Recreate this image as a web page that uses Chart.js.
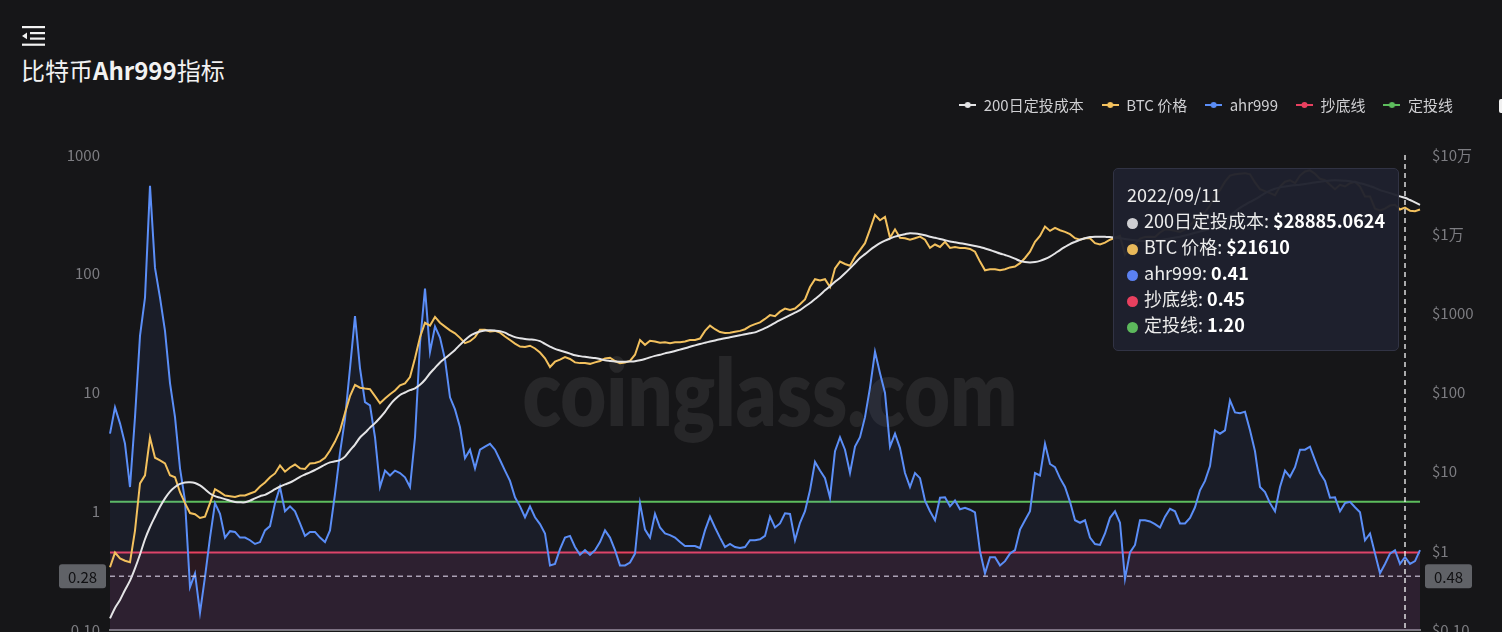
<!DOCTYPE html>
<html>
<head>
<meta charset="utf-8">
<script src="https://cdn.jsdelivr.net/npm/chart.js@4.4.0/dist/chart.umd.min.js"></script>
<style>
  body { margin:0; background:#161618; width:1502px; height:632px; overflow:hidden; position:relative;
         font-family:"Noto Sans CJK SC","Noto Sans",sans-serif; }
  #menu { position:absolute; left:22px; top:26px; }
  #title { position:absolute; left:21px; top:54px; color:#f2f2f2; font-size:24px; line-height:32px; white-space:nowrap; }
  #title b { font-weight:700; }
  #corner { position:absolute; left:1499px; top:99px; width:8px; height:14px; background:#f0f0f0; border-radius:2px; }
  #wrap { position:absolute; left:0; top:0; width:1502px; height:680px; }
  #tip { position:absolute; display:none; background:rgba(31,33,46,0.96); border:1px solid #313344; border-radius:5px;
         padding:12px 13px 13px 13px; color:#ececec; font-size:18px; line-height:26px; white-space:nowrap; z-index:5; }
  #tip .dot { display:inline-block; width:11px; height:11px; border-radius:50%; margin-right:6px; vertical-align:-1px; }
  #tip b { font-weight:700; color:#fff; }
</style>
</head>
<body>
<svg id="menu" width="23" height="20" viewBox="0 0 23 20">
  <rect x="0" y="0" width="23" height="2.2" fill="#f2f2f2"/>
  <rect x="8" y="6" width="15" height="2.2" fill="#f2f2f2"/>
  <rect x="8" y="11.5" width="15" height="2.2" fill="#f2f2f2"/>
  <rect x="0" y="17.6" width="23" height="2.2" fill="#f2f2f2"/>
  <polygon points="0,9.9 5,6.5 5,13.3" fill="#f2f2f2"/>
</svg>
<div id="title">比特币<b>Ahr999</b>指标</div>
<div id="corner"></div>
<div id="wrap"><canvas id="chart1"></canvas></div>
<div id="tip"></div>
<script>
// ahr999 指标 (左轴), 约每 16 天一个点
var ahrData = [
  4.5, 7.5, 5.5, 3.7, 1.6, 6.2, 30, 63, 550, 112,
  63, 33, 12, 6.2, 2.3, 1.23, 0.23, 0.3, 0.14, 0.28,
  0.6, 1.17, 0.95, 0.6, 0.68, 0.67, 0.6, 0.6, 0.57, 0.53,
  0.55, 0.69, 0.75, 1.17, 1.6, 1.0, 1.1, 1.0, 0.79, 0.62,
  0.67, 0.67, 0.6, 0.55, 0.69, 1.4, 3.1, 6, 16, 44,
  16, 8.3, 7.8, 4.2, 1.6, 2.2, 2.0, 2.2, 2.1, 1.93,
  1.6, 4.2, 26, 75, 22, 36, 29, 19, 9.1, 7.2,
  5.1, 2.8, 3.3, 2.3, 3.3, 3.5, 3.7, 3.3, 2.7, 2.2,
  1.8, 1.31, 1.1, 0.89, 1.1, 0.89, 0.78, 0.65, 0.35, 0.36,
  0.48, 0.6, 0.62, 0.5, 0.43, 0.47, 0.43, 0.47, 0.55, 0.69,
  0.6, 0.47, 0.35, 0.35, 0.37, 0.44, 1.17, 0.7, 0.6, 0.95,
  0.73, 0.65, 0.63, 0.6, 0.55, 0.51, 0.51, 0.51, 0.49, 0.69,
  0.9, 0.73, 0.6, 0.5, 0.53, 0.5, 0.49, 0.5, 0.57, 0.57,
  0.58, 0.62, 0.9, 0.73, 0.79, 0.96, 0.95, 0.57, 0.8, 1.0,
  1.5, 2.6, 2.2, 1.9, 1.3, 3.2, 4.2, 3.3, 2.1, 3.5,
  4.2, 6.2, 11, 22, 14.5, 9.9, 3.5, 4.5, 3.4, 2.1,
  1.6, 2.1, 1.9, 1.23, 1.0, 0.84, 1.3, 1.31, 1.1, 1.23,
  1.04, 1.07, 1.03, 0.98, 0.46, 0.3, 0.41, 0.41, 0.35, 0.38,
  0.44, 0.47, 0.7, 0.84, 1.0, 2.1, 2.0, 3.7, 2.5, 2.35,
  1.9, 1.6, 1.2, 0.84, 0.8, 0.84, 0.6, 0.53, 0.52, 0.65,
  0.88, 1.0, 0.8, 0.27, 0.45, 0.52, 0.84, 0.84, 0.82, 0.78,
  0.73, 0.9, 1.05, 1.0, 0.79, 0.79, 0.88, 1.08, 1.5, 1.8,
  2.4, 4.8, 4.5, 4.8, 8.6, 6.8, 6.7, 6.9, 4.8, 3.2,
  1.6, 1.45, 1.17, 1.0, 1.6, 2.2, 1.95, 2.35, 3.3, 3.3,
  3.5, 2.7, 2.1, 1.8, 1.3, 1.31, 1.0, 1.17, 1.2, 1.08,
  0.98, 0.57, 0.65, 0.44, 0.3, 0.36, 0.44, 0.47, 0.36, 0.41,
  0.36, 0.38, 0.47
]

// BTC 价格 (右轴, 美元)
var priceData = [
  0.62, 0.95, 0.8, 0.75, 0.72, 1.8, 7.1, 9, 27, 15,
  13.9, 12.7, 9, 8.5, 5.5, 4.0, 3.0, 2.9, 2.6, 2.7,
  4.0, 6.0, 5.5, 5.0, 4.9, 4.8, 5.0, 5.0, 5.3, 5.6,
  6.5, 7.3, 8.5, 9.5, 12, 10, 11.3, 12.3, 11, 10.8,
  12.7, 12.9, 13.5, 15, 18.5, 24, 33, 55, 90, 125,
  115, 112, 110, 90, 73, 84, 95, 106, 123, 130,
  157, 270, 500, 760, 700, 900, 760, 680, 610, 560,
  490, 420, 445, 500, 620, 620, 590, 600, 570, 510,
  460, 415, 380, 375, 390, 360, 320, 270, 210, 245,
  260, 280, 265, 240, 235, 235, 230, 240, 250, 270,
  275, 250, 235, 240, 250, 300, 460, 400, 450, 440,
  425, 430, 420, 430, 430, 440, 460, 460, 480, 600,
  700, 630, 580, 565, 570, 585, 600, 630, 690, 730,
  770, 850, 950, 920, 1050, 1150, 1100, 1150, 1300, 1500,
  2150, 2700, 2600, 2700, 2150, 3700, 4500, 4200, 4000, 5200,
  6300, 7700, 11500, 17500, 15000, 16500, 9000, 11500, 9000, 8900,
  8500, 8900, 9300, 8500, 6700, 7400, 6900, 8000, 6700, 6900,
  6700, 6700, 6500, 6000, 4500, 3500, 3600, 3600, 3500, 3600,
  3800, 3900, 4300, 5000, 6000, 8000, 9500, 12500, 11000, 12000,
  11200, 10700, 10000, 8900, 8500, 8900, 8900, 7700, 7400, 7800,
  8500, 9000, 9500, 5500, 6800, 7500, 8800, 9200, 9300, 9200,
  10500, 11500, 11400, 11000, 10700, 11500, 13000, 15000, 18000, 19000,
  23000, 32000, 36000, 46000, 55000, 57000, 58000, 59000, 57000, 45000,
  37000, 35000, 33000, 31000, 40000, 46000, 48000, 44000, 55000, 62000,
  64000, 58000, 50000, 48000, 42000, 37000, 42000, 40000, 44000, 46000,
  40000, 30000, 30000, 21000, 20000, 21000, 23000, 23500, 20500, 21610,
  19800, 19500, 20500
]

// 200日定投成本 (右轴, 美元)
var costData = [
  0.14, 0.19, 0.24, 0.32, 0.42, 0.6, 0.9, 1.4, 2.0, 2.7,
  3.6, 4.6, 5.6, 6.4, 7.0, 7.3, 7.35, 7.2, 6.7, 6.0,
  5.3, 4.9, 4.7, 4.5, 4.3, 4.15, 4.1, 4.1, 4.3, 4.6,
  4.9, 5.1, 5.5, 6.0, 6.5, 6.9, 7.3, 7.9, 8.6, 9.2,
  9.8, 10.5, 11.3, 12.3, 13.1, 13.5, 14, 15.5, 18.6, 22,
  27, 31, 36, 41, 48, 57, 70, 82, 93, 100,
  107, 113, 125, 145, 175, 205, 240, 270, 305, 345,
  400, 460, 520, 560, 590, 605, 610, 605, 595, 570,
  530, 500, 485, 475, 468, 462, 445, 410, 380, 355,
  340, 325, 310, 295, 288, 282, 277, 272, 265, 255,
  250, 246, 245, 245, 246, 248, 255, 265, 278, 290,
  300, 312, 322, 335, 348, 362, 378, 394, 410, 425,
  440, 455, 470, 485, 498, 512, 528, 545, 560, 575,
  610, 650, 700, 760, 820, 880, 950, 1020, 1100, 1220,
  1350, 1520, 1700, 1950, 2200, 2500, 2800, 3200, 3700, 4300,
  5000, 5600, 6300, 7000, 7700, 8300, 8800, 9300, 9700, 10000,
  10300, 10200, 10000, 9700, 9300, 9000, 8700, 8400, 8100, 7900,
  7700, 7500, 7300, 7100, 6900, 6600, 6300, 6000, 5700, 5450,
  5200, 4900, 4600, 4450, 4400, 4450, 4600, 4850, 5200, 5700,
  6300, 6900, 7500, 8000, 8500, 8900, 9200, 9300, 9300, 9250,
  9200, 9050, 8900, 8700, 8500, 8350, 8250, 8200, 8200, 8250,
  8400, 8600, 8800, 9050, 9300, 9600, 10000, 10400, 10800, 11200,
  11700, 12300, 13500, 15200, 17000, 19300, 21500, 23500, 25500, 27500,
  30000, 33000, 35500, 37500, 39000, 40000, 41000, 41500, 42000, 43000,
  44000, 45000, 46000, 47000, 47800, 48000, 47800, 47200, 46500, 45500,
  44000, 42500, 40500, 38500, 36000, 34500, 33000, 31500, 30000, 28885.0624,
  27000, 25200, 23500
]

var bottomLevel = 0.45   // 抄底线
var dcaLevel = 1.2       // 定投线

var leftTicks = [0.1, 1, 10, 100, 1000]
var leftTickText = ['0.10', '1', '10', '100', '1000']
var rightTicks = [0.1, 1, 10, 100, 1000, 10000, 100000]
var rightTickText = ['$0.10', '$1', '$10', '$100', '$1000', '$1万', '$10万']

// 日期: 2022/09/11 是第 259 个点
var hoverIndex = 259
var hoverDate = Date.UTC(2022, 8, 11)
var stepDays = 16
var cursorLevel = 0.283

function pad(n) { return n < 10 ? '0' + n : '' + n }
var dates = ahrData.map(function (_, i) {
  var d = new Date(hoverDate + (i - hoverIndex) * stepDays * 86400000)
  return d.getUTCFullYear() + '/' + pad(d.getUTCMonth() + 1) + '/' + pad(d.getUTCDate())
})

var colWhite = '#e4e4e6'
var colYellow = '#f3c15e'
var colBlue = '#5b8ef7'
var colRed = '#e8405f'
var colGreen = '#5dbd5d'

function marker(color) {
  var c = document.createElement('canvas')
  c.width = 17; c.height = 8
  var g = c.getContext('2d')
  g.strokeStyle = color; g.lineWidth = 2
  g.beginPath(); g.moveTo(0, 4); g.lineTo(17, 4); g.stroke()
  g.fillStyle = color
  g.beginPath(); g.arc(8.5, 4, 3, 0, Math.PI * 2); g.fill()
  return c
}

Chart.defaults.font.family = '"Noto Sans CJK SC", "Noto Sans", sans-serif'

// legend: 下方留白, 右侧内缩
const legendGap = {
  id: 'legendGap',
  beforeInit(chart) {
    const fit = chart.legend.fit
    chart.legend.fit = function () {
      fit.call(this)
      this.height += 32.5
      this.lineWidths = this.lineWidths.map(function (w) { return w + 31 })
    }
  }
}

const watermark = {
  id: 'watermark',
  beforeDatasetsDraw(chart) {
    const { ctx, chartArea } = chart
    ctx.save()
    ctx.font = '800 92px Lato'
    ctx.fillStyle = 'rgba(255,255,255,0.075)'
    ctx.textAlign = 'center'
    ctx.textBaseline = 'alphabetic'
    const w = ctx.measureText('coinglass.com').width
    ctx.translate((chartArea.left + chartArea.right) / 2 + 5, chartArea.top + (chartArea.bottom - chartArea.top) * 0.57)
    ctx.scale(495 / w, 1)
    ctx.fillText('coinglass.com', 0, 0)
    ctx.restore()
  }
}

function valueBox(ctx, x, y, text) {
  ctx.fillStyle = '#606267'
  ctx.beginPath()
  if (ctx.roundRect) ctx.roundRect(x, y - 12, 47, 24, 3)
  else ctx.rect(x, y - 12, 47, 24)
  ctx.fill()
  ctx.fillStyle = '#101012'
  ctx.font = '15px "Noto Sans CJK SC", "Noto Sans", sans-serif'
  ctx.textAlign = 'center'
  ctx.textBaseline = 'middle'
  ctx.fillText(text, x + 23.5, y + 1)
}

const crosshair = {
  id: 'crosshair',
  afterDraw(chart) {
    const { ctx, chartArea, scales } = chart
    const x = scales.x.getPixelForValue(hoverIndex)
    const y = scales.y.getPixelForValue(cursorLevel)
    ctx.save()
    ctx.lineWidth = 1.5
    ctx.setLineDash([5, 4])
    ctx.strokeStyle = 'rgba(215,205,225,0.75)'
    ctx.beginPath(); ctx.moveTo(chartArea.left, y); ctx.lineTo(chartArea.right, y); ctx.stroke()
    ctx.strokeStyle = 'rgba(255,255,255,0.85)'
    ctx.beginPath(); ctx.moveTo(x, chartArea.top); ctx.lineTo(x, chartArea.bottom + 20); ctx.stroke()
    ctx.setLineDash([])
    valueBox(ctx, chartArea.left - 51, y, scales.y.getValueForPixel(y).toFixed(2))
    valueBox(ctx, chartArea.right + 5, y, scales.yPrice.getValueForPixel(y).toFixed(2))
    ctx.restore()
  }
}

function fmtValue(dp) {
  var i = dp.datasetIndex
  if (i == 0 || i == 1) return '$' + dp.raw
  return Number(dp.raw).toFixed(2)
}

function renderTip(context) {
  var tip = context.tooltip
  var el = document.getElementById('tip')
  if (tip.opacity === 0 || !tip.dataPoints) { el.style.display = 'none'; return }
  var html = '<div>' + tip.title[0] + '</div>'
  tip.dataPoints.forEach(function (dp) {
    var ds = dp.dataset
    html += '<div><span class="dot" style="background:' + ds.tipColor + '"></span>' +
      ds.label + ': <b>' + fmtValue(dp) + '</b></div>'
  })
  el.innerHTML = html
  el.style.display = 'block'
  el.style.left = (tip.caretX - el.offsetWidth - 6) + 'px'
  el.style.top = (context.chart.chartArea.top + 13) + 'px'
}

const data = {
  labels: dates,
  datasets: [
    { label: '200日定投成本', data: costData, yAxisID: 'yPrice', borderColor: colWhite, tipColor: '#cfcfd3',
      borderWidth: 2, pointRadius: 0, tension: 0.3, fill: false },
    { label: 'BTC 价格', data: priceData, yAxisID: 'yPrice', borderColor: colYellow, tipColor: '#e9b95a',
      borderWidth: 2, pointRadius: 0, fill: false },
    { label: 'ahr999', data: ahrData, yAxisID: 'y', borderColor: colBlue, tipColor: '#5b80f0',
      borderWidth: 2, pointRadius: 0, fill: 'start', backgroundColor: 'rgba(90,130,255,0.07)' },
    { label: '抄底线', data: dates.map(function () { return bottomLevel }), yAxisID: 'y', borderColor: colRed, tipColor: '#e8405f',
      borderWidth: 2, pointRadius: 0, fill: 'start', backgroundColor: 'rgba(230,60,110,0.1)' },
    { label: '定投线', data: dates.map(function () { return dcaLevel }), yAxisID: 'y', borderColor: colGreen, tipColor: '#5cb85c',
      borderWidth: 2, pointRadius: 0, fill: false }
  ]
}

const markers = [marker(colWhite), marker(colYellow), marker(colBlue), marker(colRed), marker(colGreen)]

const config = {
  type: 'line',
  data,
  options: {
    responsive: true,
    maintainAspectRatio: false,
    animation: false,
    devicePixelRatio: 1,
    events: [],
    interaction: { mode: 'index', intersect: false },
    layout: { padding: { top: 79.5, right: 0, bottom: 42, left: 0 } },
    plugins: {
      legend: {
        position: 'top',
        align: 'end',
        labels: {
          usePointStyle: true,
          pointStyleWidth: 17,
          padding: 18,
          color: '#cfcfd2',
          font: { size: 15 },
          generateLabels: function (chart) {
            return Chart.defaults.plugins.legend.labels.generateLabels(chart).map(function (item, i) {
              item.pointStyle = markers[i]
              return item
            })
          }
        }
      },
      tooltip: { enabled: false, external: renderTip, mode: 'index', intersect: false }
    },
    scales: {
      x: {
        type: 'category',
        offset: false,
        grid: { display: false },
        ticks: { display: false },
        border: { display: true, color: '#77777c', width: 2 }
      },
      y: {
        type: 'logarithmic',
        position: 'left',
        min: 0.1,
        max: 1000,
        grid: { display: false, drawTicks: false },
        border: { display: false },
        ticks: {
          color: '#7d7d82',
          font: { size: 15 },
          padding: 10,
          callback: function (v) { return leftTickText[leftTicks.indexOf(v)] }
        },
        afterBuildTicks: function (s) { s.ticks = leftTicks.map(function (v) { return { value: v } }) },
        afterFit: function (s) { s.width = 110 }
      },
      yPrice: {
        type: 'logarithmic',
        position: 'right',
        min: 0.1,
        max: 100000,
        grid: { display: false, drawTicks: false },
        border: { display: false },
        ticks: {
          color: '#7d7d82',
          font: { size: 15 },
          padding: 12,
          callback: function (v) { return rightTickText[rightTicks.indexOf(v)] }
        },
        afterBuildTicks: function (s) { s.ticks = rightTicks.map(function (v) { return { value: v } }) },
        afterFit: function (s) { s.width = 82 }
      }
    }
  },
  plugins: [legendGap, watermark, crosshair]
}

const myChart = new Chart(document.getElementById('chart1'), config)

// 固定显示 2022/09/11 的提示框
myChart.tooltip.setActiveElements(
  data.datasets.map(function (_, i) { return { datasetIndex: i, index: hoverIndex } }),
  { x: 0, y: 0 }
)
myChart.draw()
</script>
</body>
</html>
